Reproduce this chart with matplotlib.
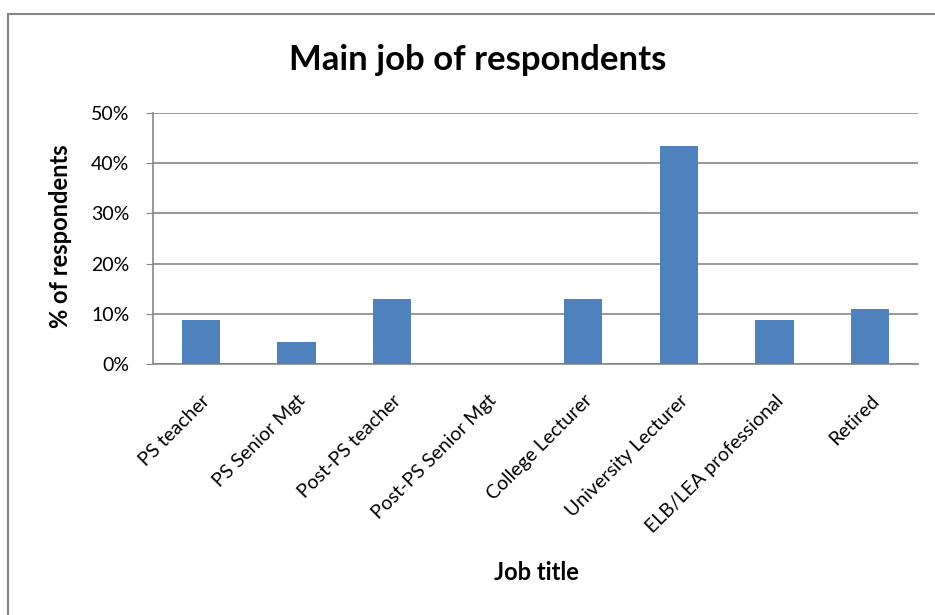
import matplotlib
matplotlib.use("Agg")
import matplotlib.pyplot as plt
from matplotlib.patches import Rectangle
from matplotlib.ticker import PercentFormatter

# main job of respondents (percent)
jobs = ["PS teacher", "PS Senior Mgt", "Post-PS teacher", "Post-PS Senior Mgt",
        "College Lecturer", "University Lecturer", "ELB/LEA professional", "Retired"]
pct = [8.7, 4.3, 13.0, 0.0, 13.0, 43.5, 8.7, 10.9]
yticks = [0, 10, 20, 30, 40, 50]

plt.rcParams['font.family'] = ['Lato', 'DejaVu Sans']

W, H = 935, 615
fig = plt.figure(figsize=(W / 100, H / 100), dpi=100)

# outer chart border (only left/top visible in reference)
fig.patches.append(Rectangle((8 / W, -0.1), 1.2, 1 - 14 / H + 0.1,
                             transform=fig.transFigure, fill=False,
                             edgecolor="#868686", linewidth=1.5))

ax = fig.add_axes([153 / W, 1 - 364 / H, (918 - 153) / W, (364 - 113) / H])
x = range(len(jobs))
ax.bar(x, pct, width=0.4, color="#4F81BD", zorder=3)

ax.set_xlim(-0.5, len(jobs) - 0.5)
ax.set_ylim(0, 50)
ax.set_yticks(yticks)
ax.yaxis.set_major_formatter(PercentFormatter(decimals=0))
ax.grid(axis="y", color="#868686", linewidth=1.2, zorder=0)

for s in ["top", "right"]:
    ax.spines[s].set_visible(False)
for s in ["left", "bottom"]:
    ax.spines[s].set_color("#868686")
    ax.spines[s].set_linewidth(1.2)

ax.set_xticks(list(x))
ax.set_xticklabels(jobs, rotation=45, ha="right", rotation_mode="anchor", fontsize=14)
ax.tick_params(axis="x", length=0, pad=20)
ax.tick_params(axis="y", length=5, color="#868686", labelsize=14, pad=12)

fig.text(478 / W, 1 - 60 / H, "Main job of respondents", ha="center", va="center",
         fontsize=25, fontweight="bold")
fig.text(60 / W, 1 - 236 / H, "% of respondents", ha="center", va="center",
         rotation=90, fontsize=17, fontweight="bold")
fig.text(536 / W, 1 - 572 / H, "Job title", ha="center", va="center",
         fontsize=17, fontweight="bold")

fig.savefig("out.png", dpi=100)
